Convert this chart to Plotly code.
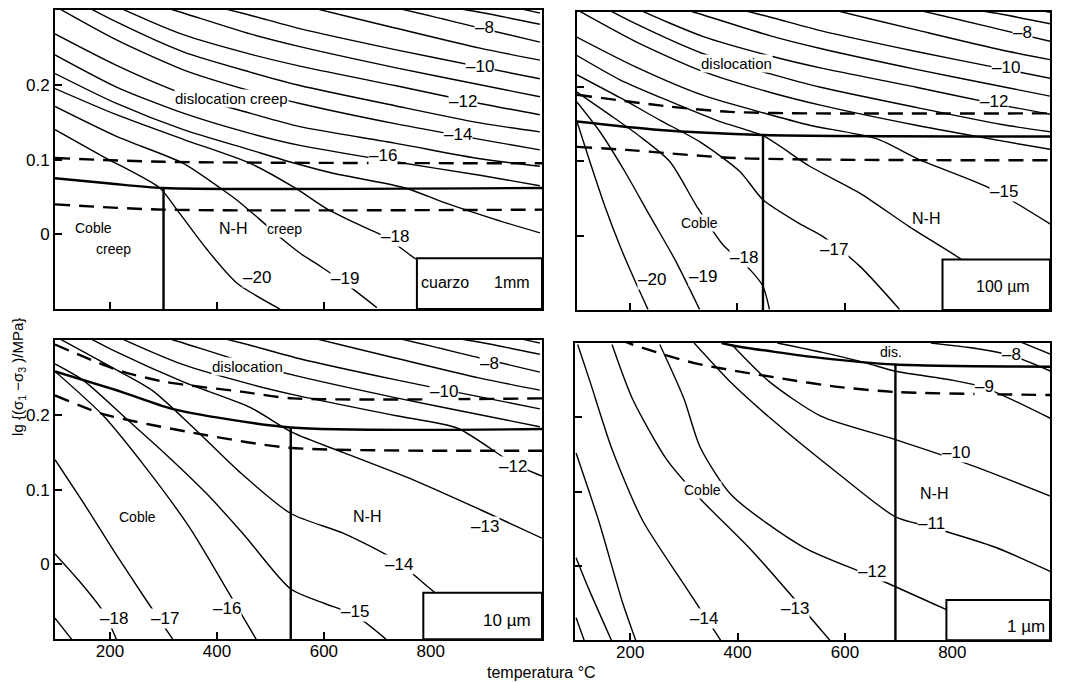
import plotly.graph_objects as go

FONT = "Liberation Sans"

# ---------------- data (temperature in degC, stress as lg value) ----------------
# dislocation-creep strain-rate contours shared by the panels (lg strain rate -6 ... -16)
FAM_T = [97, 212, 337, 462, 555, 733, 892, 1004]
D6 = [0.489, 0.431, 0.391, 0.367, 0.355, 0.332, 0.313, 0.296]
D7 = [0.465, 0.407, 0.371, 0.348, 0.335, 0.315, 0.297, 0.281]
D8 = [0.441, 0.388, 0.361, 0.340, 0.327, 0.303, 0.276, 0.257]
D9 = [0.417, 0.367, 0.344, 0.324, 0.307, 0.276, 0.249, 0.233]
D10 = [0.393, 0.343, 0.316, 0.293, 0.275, 0.247, 0.224, 0.208]
D11 = [0.369, 0.324, 0.296, 0.268, 0.251, 0.223, 0.200, 0.184]
D12 = [0.348, 0.305, 0.267, 0.241, 0.225, 0.199, 0.175, 0.160]
D13 = [0.327, 0.284, 0.244, 0.217, 0.199, 0.172, 0.149, 0.137]
D14 = [0.305, 0.260, 0.220, 0.192, 0.175, 0.148, 0.127, 0.113]
D15 = [0.268, 0.226, 0.188, 0.162, 0.144, 0.122, 0.101, 0.091]
D16 = [0.240, 0.197, 0.162, 0.135, 0.119, 0.097, 0.079, 0.065]

# panel 1 : cuarzo 1 mm
P1_T17 = [97, 212, 337, 462, 546, 615, 752, 827, 920, 1004]
P1_S17 = [0.215, 0.175, 0.140, 0.113, 0.095, 0.082, 0.062, 0.042, 0.020, 0.002]
P1_T18 = [97, 212, 337, 462, 546, 608, 671, 714, 770, 798]
P1_S18 = [0.195, 0.160, 0.127, 0.095, 0.062, 0.033, 0.011, -0.003, -0.032, -0.043]
P1_T19 = [97, 212, 337, 406, 437, 480, 518, 555, 596, 639, 699]
P1_S19 = [0.171, 0.131, 0.095, 0.062, 0.046, 0.020, -0.004, -0.025, -0.044, -0.065, -0.098]
P1_T20 = [97, 187, 293, 325, 381, 437, 518]
P1_S20 = [0.140, 0.104, 0.062, 0.033, -0.020, -0.065, -0.100]
P1_SOLID_T = [97, 200, 300, 1008]
P1_SOLID_S = [0.075, 0.068, 0.062, 0.062]
P1_VERT_T = [300, 300]
P1_VERT_S = [0.062, -0.1]
P1_DASH1_T = [97, 300, 1008]
P1_DASH1_S = [0.102, 0.097, 0.095]
P1_DASH2_T = [97, 300, 1008]
P1_DASH2_S = [0.040, 0.033, 0.033]
P1_BOX = [774, 1008, -0.1, -0.032]

# panel 2 : 100 um
P2_T15 = [97, 212, 337, 462, 535, 659, 739, 869, 990]
P2_S15 = [0.268, 0.226, 0.188, 0.162, 0.148, 0.130, 0.102, 0.064, 0.012]
P2_T16 = [101, 182, 275, 368, 448, 535, 628, 720, 813, 888]
P2_S16 = [0.242, 0.209, 0.180, 0.153, 0.134, 0.093, 0.057, 0.012, -0.030, -0.068]
P2_T17 = [101, 182, 256, 330, 405, 448, 516, 559, 628, 702]
P2_S17 = [0.216, 0.185, 0.155, 0.126, 0.086, 0.048, 0.016, -0.001, -0.041, -0.099]
P2_T18 = [101, 163, 219, 275, 325, 373, 423, 448, 460]
P2_S18 = [0.193, 0.162, 0.133, 0.099, 0.039, -0.012, -0.045, -0.068, -0.099]
P2_T19 = [101, 145, 191, 238, 284, 330]
P2_S19 = [0.180, 0.139, 0.086, 0.026, -0.032, -0.099]
P2_T20 = [101, 126, 154, 182, 210, 234]
P2_S20 = [0.155, 0.099, 0.039, -0.014, -0.061, -0.099]
P2_SOLID_T = [102, 250, 448, 982]
P2_SOLID_S = [0.153, 0.142, 0.135, 0.133]
P2_VERT_T = [448, 448]
P2_VERT_S = [0.135, -0.1]
P2_DASH1_T = [102, 275, 386, 535, 982]
P2_DASH1_S = [0.189, 0.173, 0.166, 0.164, 0.164]
P2_DASH2_T = [102, 194, 399, 982]
P2_DASH2_S = [0.119, 0.115, 0.104, 0.101]
P2_BOX = [782, 982, -0.1, -0.032]

# panel 3 : 10 um
P3_T12 = [97, 212, 337, 462, 555, 733, 850, 954, 1008]
P3_S12 = [0.348, 0.305, 0.267, 0.241, 0.225, 0.199, 0.182, 0.135, 0.118]
P3_T13 = [97, 212, 337, 462, 542, 638, 767, 896, 1008]
P3_S13 = [0.327, 0.284, 0.244, 0.210, 0.176, 0.149, 0.113, 0.072, 0.035]
P3_T14 = [97, 212, 280, 360, 440, 538, 638, 735, 812, 860]
P3_S14 = [0.305, 0.260, 0.232, 0.180, 0.125, 0.068, 0.041, 0.005, -0.040, -0.060]
P3_T15 = [97, 150, 230, 300, 380, 450, 538, 600, 658, 716]
P3_S15 = [0.268, 0.246, 0.195, 0.150, 0.095, 0.040, -0.033, -0.052, -0.068, -0.100]
P3_T16 = [97, 187, 265, 348, 413, 474]
P3_S16 = [0.258, 0.199, 0.131, 0.050, -0.027, -0.101]
P3_T17 = [97, 155, 207, 265, 319]
P3_S17 = [0.140, 0.077, 0.018, -0.045, -0.102]
P3_T18 = [97, 142, 187, 213]
P3_S18 = [0.014, -0.022, -0.063, -0.102]
P3_T19 = [97, 129]
P3_S19 = [-0.072, -0.101]
P3_SOLID_T = [97, 220, 316, 538, 1008]
P3_SOLID_S = [0.258, 0.231, 0.208, 0.183, 0.181]
P3_VERT_T = [538, 538]
P3_VERT_S = [0.183, -0.1]
P3_DASH1_T = [97, 213, 303, 445, 542, 1008]
P3_DASH1_S = [0.294, 0.260, 0.244, 0.231, 0.222, 0.222]
P3_DASH2_T = [97, 187, 355, 535, 1008]
P3_DASH2_S = [0.226, 0.201, 0.176, 0.156, 0.152]
P3_BOX = [786, 1008, -0.1, -0.038]

# panel 4 : 1 um
P4_T7 = [925, 990]
P4_S7 = [0.302, 0.283]
P4_T8 = [760, 850, 911, 990]
P4_S8 = [0.300, 0.292, 0.283, 0.260]
P4_T9 = [474, 560, 640, 694, 800, 860, 990]
P4_S9 = [0.300, 0.287, 0.273, 0.262, 0.250, 0.240, 0.196]
P4_T10 = [389, 459, 554, 694, 841, 1000]
P4_S10 = [0.298, 0.248, 0.202, 0.170, 0.134, 0.089]
P4_T11 = [319, 390, 459, 586, 694, 761, 880, 990]
P4_S11 = [0.300, 0.245, 0.200, 0.125, 0.066, 0.052, 0.025, -0.010]
P4_T12 = [255, 300, 330, 389, 523, 650, 789]
P4_S12 = [0.298, 0.225, 0.160, 0.095, 0.025, -0.014, -0.059]
P4_T13 = [166, 204, 268, 332, 427, 574]
P4_S13 = [0.298, 0.225, 0.143, 0.089, 0.020, -0.102]
P4_T14 = [102, 125, 166, 223, 300, 370]
P4_S14 = [0.298, 0.248, 0.157, 0.061, -0.025, -0.102]
P4_T15 = [99, 141, 185, 211]
P4_S15 = [0.152, 0.061, -0.048, -0.102]
P4_T16 = [99, 122, 166]
P4_S16 = [0.011, -0.030, -0.102]
P4_T17 = [99, 115]
P4_S17 = [-0.070, -0.102]
P4_SOLID_T = [370, 395, 554, 694, 982]
P4_SOLID_S = [0.300, 0.296, 0.280, 0.271, 0.268]
P4_VERT_T = [694, 694]
P4_VERT_S = [0.271, -0.1]
P4_DASH_T = [180, 204, 319, 484, 586, 694, 982]
P4_DASH_S = [0.305, 0.298, 0.273, 0.252, 0.241, 0.234, 0.230]
P4_BOX = [789, 982, -0.1, -0.046]

X_TICKS = [200, 400, 600, 800]
Y_TICKS = [0, 0.1, 0.2]
Y_TICKTEXT = ["0", "0.1", "0.2"]

# contour / region labels: (panel, T, s, text, size)
LABELS = [
    (1, 901, 0.277, "–8", 17), (1, 892, 0.224, "–10", 17), (1, 860, 0.177, "–12", 17),
    (1, 851, 0.133, "–14", 17), (1, 711, 0.106, "–16", 17), (1, 733, -0.003, "–18", 17),
    (1, 639, -0.059, "–19", 17), (1, 474, -0.058, "–20", 17),
    (1, 427, 0.182, "dislocation creep", 15), (1, 169, 0.008, "Coble", 14),
    (1, 206, -0.020, "creep", 14), (1, 430, 0.008, "N-H", 16), (1, 527, 0.007, "creep", 14),
    (1, 827, -0.065, "cuarzo", 16), (1, 951, -0.065, "1mm", 16),
    (2, 931, 0.273, "–8", 17), (2, 900, 0.226, "–10", 17), (2, 878, 0.180, "–12", 17),
    (2, 897, 0.059, "–15", 17), (2, 581, -0.019, "–17", 17), (2, 412, -0.030, "–18", 17),
    (2, 337, -0.055, "–19", 17), (2, 241, -0.059, "–20", 17),
    (2, 399, 0.231, "dislocation", 15), (2, 330, 0.017, "Coble", 14), (2, 751, 0.023, "N-H", 16),
    (2, 894, -0.068, "100 µm", 16),
    (3, 909, 0.269, "–8", 17), (3, 825, 0.231, "–10", 17), (3, 954, 0.131, "–12", 17),
    (3, 902, 0.050, "–13", 17), (3, 741, 0.000, "–14", 17), (3, 658, -0.063, "–15", 17),
    (3, 419, -0.059, "–16", 17), (3, 303, -0.072, "–17", 17), (3, 207, -0.072, "–18", 17),
    (3, 458, 0.265, "dislocation", 15), (3, 252, 0.063, "Coble", 14), (3, 680, 0.064, "N-H", 16),
    (3, 942, -0.075, "10 µm", 17),
    (4, 685, 0.288, "dis.", 14), (4, 911, 0.284, "–8", 17), (4, 860, 0.241, "–9", 17),
    (4, 806, 0.152, "–10", 17), (4, 765, 0.098, "N-H", 16), (4, 761, 0.057, "–11", 17),
    (4, 650, -0.007, "–12", 17), (4, 507, -0.057, "–13", 17), (4, 338, -0.071, "–14", 17),
    (4, 335, 0.102, "Coble", 14), (4, 937, -0.082, "1 µm", 17),
]

# ---------------- figure ----------------
fig = go.Figure()
AX = {1: ("x", "y"), 2: ("x2", "y2"), 3: ("x3", "y3"), 4: ("x4", "y4")}


def add_line(p, T, S, w=1.4, dash=None, shape="spline"):
    xa, ya = AX[p]
    fig.add_trace(go.Scatter(
        x=T, y=S, xaxis=xa, yaxis=ya, mode="lines",
        line=dict(color="black", width=w, dash=dash, shape=shape, smoothing=0.7),
        hoverinfo="skip", showlegend=False))


FAMILY = [D6, D7, D8, D9, D10, D11, D12, D13, D14]
for d in FAMILY:
    add_line(1, FAM_T, d)
    add_line(2, FAM_T, d)
for d in [D6, D7, D8, D9, D10, D11]:
    add_line(3, FAM_T, d)

add_line(1, FAM_T, D15)
add_line(1, FAM_T, D16)
for T, S in [(P1_T17, P1_S17), (P1_T18, P1_S18), (P1_T19, P1_S19), (P1_T20, P1_S20)]:
    add_line(1, T, S)
for T, S in [(P2_T15, P2_S15), (P2_T16, P2_S16), (P2_T17, P2_S17), (P2_T18, P2_S18),
             (P2_T19, P2_S19), (P2_T20, P2_S20)]:
    add_line(2, T, S)
for T, S in [(P3_T12, P3_S12), (P3_T13, P3_S13), (P3_T14, P3_S14), (P3_T15, P3_S15),
             (P3_T16, P3_S16), (P3_T17, P3_S17), (P3_T18, P3_S18), (P3_T19, P3_S19)]:
    add_line(3, T, S)
for T, S in [(P4_T7, P4_S7), (P4_T8, P4_S8), (P4_T9, P4_S9), (P4_T10, P4_S10),
             (P4_T11, P4_S11), (P4_T12, P4_S12), (P4_T13, P4_S13), (P4_T14, P4_S14),
             (P4_T15, P4_S15), (P4_T16, P4_S16), (P4_T17, P4_S17)]:
    add_line(4, T, S)

DASH = "15px,9px"
BW = 2.4
add_line(1, P1_SOLID_T, P1_SOLID_S, BW)
add_line(1, P1_VERT_T, P1_VERT_S, BW, shape="linear")
add_line(1, P1_DASH1_T, P1_DASH1_S, BW, DASH)
add_line(1, P1_DASH2_T, P1_DASH2_S, BW, DASH)
add_line(2, P2_SOLID_T, P2_SOLID_S, BW)
add_line(2, P2_VERT_T, P2_VERT_S, BW, shape="linear")
add_line(2, P2_DASH1_T, P2_DASH1_S, BW, DASH)
add_line(2, P2_DASH2_T, P2_DASH2_S, BW, DASH)
add_line(3, P3_SOLID_T, P3_SOLID_S, BW)
add_line(3, P3_VERT_T, P3_VERT_S, BW, shape="linear")
add_line(3, P3_DASH1_T, P3_DASH1_S, BW, DASH)
add_line(3, P3_DASH2_T, P3_DASH2_S, BW, DASH)
add_line(4, P4_SOLID_T, P4_SOLID_S, BW)
add_line(4, P4_VERT_T, P4_VERT_S, BW, shape="linear")
add_line(4, P4_DASH_T, P4_DASH_S, BW, DASH)

shapes = []
for p, box in [(1, P1_BOX), (2, P2_BOX), (3, P3_BOX), (4, P4_BOX)]:
    xa, ya = AX[p]
    shapes.append(dict(type="rect", xref=xa, yref=ya, x0=box[0], x1=box[1], y0=box[2], y1=box[3],
                       fillcolor="white", line=dict(color="black", width=2), layer="above"))

# page is drawn with an 8 px body margin: figure is placed at (8, 8) of the window
OFF = 8
W, H = 1067 - OFF, 682 - OFF


def xdom(a, b):
    return [(a - OFF) / W, (b - OFF) / W]


def ydom(top, bottom):
    return [1 - (bottom - OFF) / H, 1 - (top - OFF) / H]


annotations = []
for p, T, S, txt, size in LABELS:
    xa, ya = AX[p]
    annotations.append(dict(x=T, y=S, xref=xa, yref=ya, text=txt, showarrow=False,
                            font=dict(family=FONT, size=size, color="black"),
                            bgcolor="white", borderpad=0))

annotations.append(dict(x=(19 - OFF) / W, y=1 - (376 - OFF) / H, xref="paper", yref="paper",
                        xanchor="center", yanchor="middle",
                        text="lg {(σ<sub>1</sub> −σ<sub>3</sub> )/MPa}", textangle=-90,
                        showarrow=False, font=dict(family=FONT, size=15, color="black")))
annotations.append(dict(x=(541 - OFF) / W, y=1 - (672 - OFF) / H, xref="paper", yref="paper",
                        xanchor="center", yanchor="middle",
                        text="temperatura °C", showarrow=False,
                        font=dict(family=FONT, size=16, color="black")))

common = dict(showline=True, linecolor="black", linewidth=2, mirror=True, ticks="inside",
              ticklen=7, tickwidth=2, tickcolor="black", showgrid=False, zeroline=False,
              tickfont=dict(family=FONT, size=17, color="black"))
xcommon = dict(common, ticklabelstandoff=-5)

fig.update_layout(
    width=W, height=H, margin=dict(l=0, r=0, t=0, b=0),
    paper_bgcolor="white", plot_bgcolor="white", showlegend=False,
    xaxis=dict(xcommon, domain=xdom(55, 542), range=[97, 1008], tickvals=X_TICKS,
               showticklabels=False, anchor="y"),
    yaxis=dict(common, domain=ydom(8, 308), range=[-0.1, 0.3], tickvals=Y_TICKS,
               ticktext=Y_TICKTEXT, anchor="x"),
    xaxis2=dict(xcommon, domain=xdom(577, 1050), range=[102, 982], tickvals=X_TICKS,
                showticklabels=False, anchor="y2"),
    yaxis2=dict(common, domain=ydom(10, 309), range=[-0.1, 0.3], tickvals=Y_TICKS,
                showticklabels=False, anchor="x2"),
    xaxis3=dict(xcommon, domain=xdom(55, 542), range=[97, 1008], tickvals=X_TICKS, anchor="y3"),
    yaxis3=dict(common, domain=ydom(339, 639), range=[-0.1, 0.3], tickvals=Y_TICKS,
                ticktext=Y_TICKTEXT, anchor="x3"),
    xaxis4=dict(xcommon, domain=xdom(575, 1050), range=[97, 982], tickvals=X_TICKS, anchor="y4"),
    yaxis4=dict(common, domain=ydom(342, 640), range=[-0.1, 0.3], tickvals=Y_TICKS,
                showticklabels=False, anchor="x4"),
    shapes=shapes, annotations=annotations,
)

fig.write_html("out.html")
